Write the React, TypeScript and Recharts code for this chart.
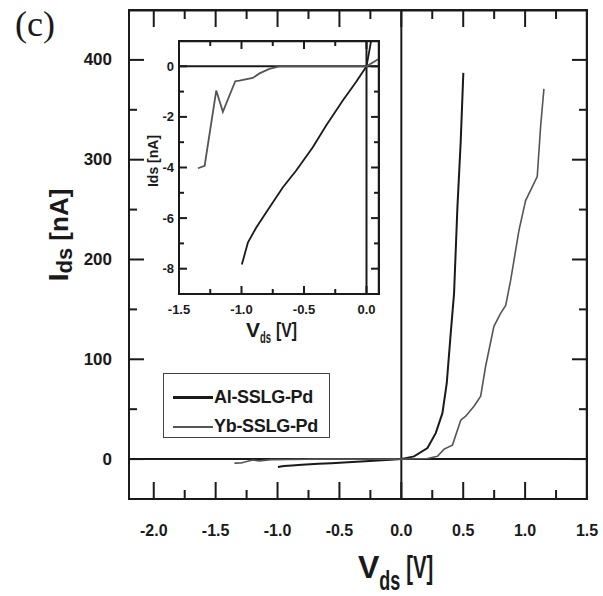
import { LineChart, Line, XAxis, YAxis, ReferenceLine, Legend } from "recharts";

// I-V data (V in volts, I in nA)
const alVoltage = [
  -0.997, -0.949, -0.883, -0.803, -0.67, -0.564, -0.431, -0.324, -0.191, -0.085, 0, 0.035, 0.103,
  0.211, 0.278, 0.332, 0.367, 0.399, 0.426, 0.453, 0.48, 0.501,
];
const alCurrent = [
  -7.83, -6.97, -6.38, -5.78, -4.79, -4.13, -3.21, -2.35, -1.36, -0.63, 0, 0.95, 2.7, 11, 26, 46,
  76, 126, 166, 252, 319, 387,
];

const ybVoltage = [
  -1.348, -1.295, -1.202, -1.149, -1.05, -1.016, -0.91, -0.856, -0.777, -0.697, -0.5, -0.3, 0, 0.1,
  0.211, 0.292, 0.345, 0.413, 0.48, 0.52, 0.587, 0.641, 0.681, 0.748, 0.802, 0.843, 0.883, 0.95,
  1.004, 1.098, 1.125, 1.152,
];
const ybCurrent = [
  -4.03, -3.93, -0.96, -1.8, -0.59, -0.57, -0.46, -0.28, -0.1, 0, 0, 0, 0, 0.3, 0.6, 2.7, 10, 14,
  39, 43, 53, 63, 93, 133, 146, 154, 179, 229, 259, 283, 333, 371,
];

const seriesNames = ["Al-SSLG-Pd", "Yb-SSLG-Pd"];

const mainXTicks = [
  -2, -1.75, -1.5, -1.25, -1, -0.75, -0.5, -0.25, 0, 0.25, 0.5, 0.75, 1, 1.25, 1.5,
];
const mainYTicks = [0, 50, 100, 150, 200, 250, 300, 350, 400];
const insetXTicks = [-1.5, -1.25, -1, -0.75, -0.5, -0.25, 0];
const insetYTicks = [-8, -7, -6, -5, -4, -3, -2, -1, 0];

const mainXDomain = [-2.2, 1.5];
const mainYDomain = [-40, 450];
const insetXDomain = [-1.5, 0.1];
const insetYDomain = [-9, 1];

const alData = alVoltage.map((v, i) => ({ v, i: alCurrent[i] }));
const ybData = ybVoltage.map((v, i) => ({ v, i: ybCurrent[i] }));

const INK = "#1a1a1a";
const GREY = "#555";
const FONT = "'Liberation Sans', Arial, sans-serif";

// inward tick marks on an axis and on the opposite frame edge, with optional label
function makeTick(
  side: "bottom" | "left",
  span: number,
  isMajor: (v: number) => boolean,
  majorLen: number,
  minorLen: number,
  gap: number,
  fontSize: number,
  fmt: (v: number) => string
) {
  return function Tick(props: any) {
    const x = Number(props.x);
    const y = Number(props.y);
    const v = props.payload.value as number;
    const major = isMajor(v);
    const len = major ? majorLen : minorLen;
    if (side === "bottom") {
      const top = y - span;
      return (
        <g>
          <path d={`M${x},${y}V${y - len}`} stroke={INK} strokeWidth={2} />
          <path d={`M${x},${top}V${top + len}`} stroke={INK} strokeWidth={2} />
          {major && (
            <text
              x={x}
              y={y + gap}
              textAnchor="middle"
              dominantBaseline="central"
              fontFamily={FONT}
              fontWeight="bold"
              fontSize={fontSize}
              fill={INK}
            >
              {fmt(v)}
            </text>
          )}
        </g>
      );
    }
    const right = x + span;
    return (
      <g>
        <path d={`M${x},${y}H${x + len}`} stroke={INK} strokeWidth={2} />
        <path d={`M${right},${y}H${right - len}`} stroke={INK} strokeWidth={2} />
        {major && (
          <text
            x={x - gap}
            y={y}
            textAnchor="end"
            dominantBaseline="central"
            fontFamily={FONT}
            fontWeight="bold"
            fontSize={fontSize}
            fill={INK}
          >
            {fmt(v)}
          </text>
        )}
      </g>
    );
  };
}

const halfStep = (v: number) => Math.abs(v * 2 - Math.round(v * 2)) < 1e-6;
const hundred = (v: number) => v % 100 === 0;
const even = (v: number) => v % 2 === 0;

const axisLine = { stroke: INK, strokeWidth: 2 };

function LegendBox(props: any) {
  const payload = (props.payload || []).filter((p: any) => seriesNames.includes(p.value));
  return (
    <div
      style={{
        boxSizing: "border-box",
        width: 167,
        height: 65,
        border: "1.5px solid #444",
        background: "#fff",
        fontFamily: FONT,
        fontWeight: "bold",
        fontSize: 18,
        color: INK,
        padding: "9px 0 0 9px",
      }}
    >
      {payload.map((p: any, k: number) => (
        <div key={p.value} style={{ display: "flex", alignItems: "center", height: 29 }}>
          <span
            style={{
              display: "inline-block",
              width: 40,
              height: 0,
              borderTop: `${k === 0 ? 3 : 2}px solid ${k === 0 ? INK : GREY}`,
              marginRight: 1,
            }}
          />
          <span style={{ letterSpacing: -0.3 }}>{p.value}</span>
        </div>
      ))}
    </div>
  );
}

function MainChart() {
  return (
    <LineChart width={603} height={596} margin={{ top: 10, right: 16, bottom: 96, left: 128 }}>
      <XAxis
        type="number"
        dataKey="v"
        domain={mainXDomain}
        allowDataOverflow
        ticks={mainXTicks}
        interval={0}
        height={1}
        tickSize={0}
        tickMargin={0}
        axisLine={axisLine}
        tick={makeTick("bottom", 489, halfStep, 17, 9, 31, 16, (v) => v.toFixed(1))}
        label={{
          content: () => (
            <text x={358} y={578} fontFamily={FONT} fontWeight="bold" fill={INK}>
              <tspan fontSize={32}>V</tspan>
              <tspan fontSize={27} dy={12} textLength={21} lengthAdjust="spacingAndGlyphs">
                ds
              </tspan>
              <tspan
                fontSize={31}
                dx={6}
                dy={-12}
                textLength={27}
                lengthAdjust="spacingAndGlyphs"
              >
                [V]
              </tspan>
            </text>
          ),
        }}
      />
      <YAxis
        type="number"
        domain={mainYDomain}
        allowDataOverflow
        ticks={mainYTicks}
        interval={0}
        width={1}
        tickSize={0}
        tickMargin={0}
        axisLine={axisLine}
        tick={makeTick("left", 458, hundred, 15, 8, 17, 17, (v) => String(v))}
        label={{
          content: () => (
            <text
              x={-235}
              y={68}
              transform="rotate(-90)"
              textAnchor="middle"
              fontFamily={FONT}
              fontWeight="bold"
              fill={INK}
            >
              <tspan fontSize={28}>I</tspan>
              <tspan fontSize={22} dy={4}>ds</tspan>
              <tspan fontSize={26} dy={-4}> [nA]</tspan>
            </text>
          ),
        }}
      />
      <ReferenceLine y={mainYDomain[1] - 0.5} stroke={INK} strokeWidth={2} ifOverflow="visible" />
      <ReferenceLine x={mainXDomain[1] - 0.002} stroke={INK} strokeWidth={2} ifOverflow="visible" />
      <ReferenceLine y={0} stroke={INK} strokeWidth={2} />
      <ReferenceLine x={0} stroke={INK} strokeWidth={2} />
      <Line
        data={alData}
        dataKey="i"
        name={seriesNames[0]}
        type="linear"
        stroke={INK}
        strokeWidth={2}
        dot={false}
        isAnimationActive={false}
      />
      <Line
        data={ybData}
        dataKey="i"
        name={seriesNames[1]}
        type="linear"
        stroke={GREY}
        strokeWidth={1.6}
        dot={false}
        isAnimationActive={false}
      />
      <Legend
        layout="vertical"
        align="center"
        verticalAlign="middle"
        content={LegendBox}
        wrapperStyle={{ left: 163, top: 373, width: 167, height: 65 }}
      />
    </LineChart>
  );
}

function InsetChart() {
  return (
    <LineChart width={260} height={330} margin={{ top: 6, right: 11, bottom: 70, left: 48 }}>
      <XAxis
        type="number"
        dataKey="v"
        domain={insetXDomain}
        allowDataOverflow
        ticks={insetXTicks}
        interval={0}
        height={1}
        tickSize={0}
        tickMargin={0}
        axisLine={axisLine}
        tick={makeTick("bottom", 253, halfStep, 8, 5, 15, 13, (v) => v.toFixed(1))}
        label={{
          content: () => (
            <text x={116} y={302} fontFamily={FONT} fontWeight="bold" fill={INK}>
              <tspan fontSize={21}>V</tspan>
              <tspan fontSize={17} dy={6} textLength={11} lengthAdjust="spacingAndGlyphs">
                ds
              </tspan>
              <tspan
                fontSize={21}
                dx={5}
                dy={-6}
                textLength={21}
                lengthAdjust="spacingAndGlyphs"
              >
                [V]
              </tspan>
            </text>
          ),
        }}
      />
      <YAxis
        type="number"
        domain={insetYDomain}
        allowDataOverflow
        ticks={insetYTicks}
        interval={0}
        width={1}
        tickSize={0}
        tickMargin={0}
        axisLine={axisLine}
        tick={makeTick("left", 200, even, 8, 5, 5, 13, (v) => String(v))}
        label={{
          content: () => (
            <text
              x={-126}
              y={28}
              transform="rotate(-90)"
              textAnchor="middle"
              fontFamily={FONT}
              fontWeight="bold"
              fontSize={14}
              fill={INK}
            >
              Ids [nA]
            </text>
          ),
        }}
      />
      <ReferenceLine y={insetYDomain[1] - 0.01} stroke={INK} strokeWidth={2} ifOverflow="visible" />
      <ReferenceLine x={insetXDomain[1] - 0.002} stroke={INK} strokeWidth={2} ifOverflow="visible" />
      <ReferenceLine y={0} stroke={INK} strokeWidth={2} />
      <ReferenceLine x={0} stroke={INK} strokeWidth={2} />
      <Line
        data={alData}
        dataKey="i"
        type="linear"
        stroke={INK}
        strokeWidth={1.8}
        dot={false}
        isAnimationActive={false}
      />
      <Line
        data={ybData}
        dataKey="i"
        type="linear"
        stroke={GREY}
        strokeWidth={1.8}
        dot={false}
        isAnimationActive={false}
      />
    </LineChart>
  );
}

export default function App() {
  return (
    <div style={{ position: "absolute", left: 0, top: 0, width: 603, height: 596, background: "#fff" }}>
      <MainChart />
      <div style={{ position: "absolute", left: 130, top: 35 }}>
        <InsetChart />
      </div>
      <div
        style={{
          position: "absolute",
          left: 15,
          top: 3,
          fontFamily: "'Liberation Serif', 'Times New Roman', serif",
          fontSize: 36,
          color: INK,
        }}
      >
        (c)
      </div>
      {/* plot frames of the main panel and the inset, kept on top */}
      <svg
        width={603}
        height={596}
        style={{ position: "absolute", left: 0, top: 0, zIndex: 10, pointerEvents: "none" }}
      >
        <rect x={129} y={10} width={458} height={489} fill="none" stroke={INK} strokeWidth={2} />
        <rect x={179} y={41} width={200} height={253} fill="none" stroke={INK} strokeWidth={2} />
      </svg>
    </div>
  );
}
